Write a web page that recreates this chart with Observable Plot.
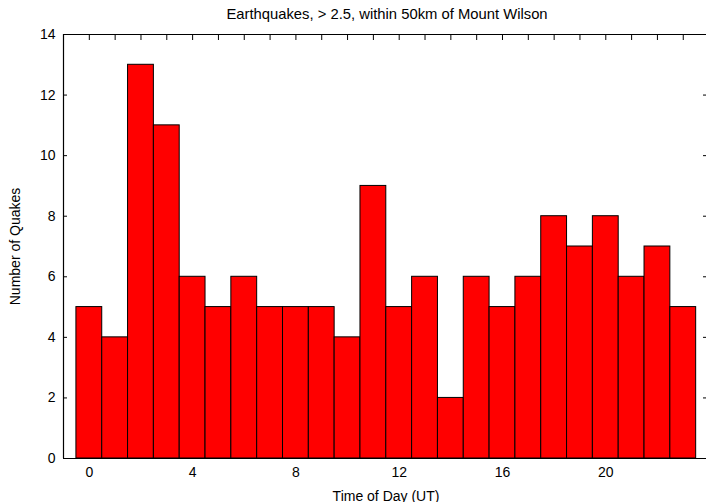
<!DOCTYPE html>
<html>
<head>
<meta charset="utf-8">
<script src="https://cdn.jsdelivr.net/npm/d3@7"></script>
<script src="https://cdn.jsdelivr.net/npm/@observablehq/plot@0.6"></script>
<style>
  html, body { margin: 0; padding: 0; background: #fff; }
  #chart svg { display: block; font-family: "Liberation Sans", Arial, Helvetica, sans-serif; }
</style>
</head>
<body>
<div id="chart"></div>
<script>
const hours = d3.range(0, 24);
const counts = [5, 4, 13, 11, 6, 5, 6, 5, 5, 5, 4, 9, 5, 6, 2, 6, 5, 6, 8, 7, 8, 6, 7, 5];
const xTickLabels = [0, 4, 8, 12, 16, 20];
const yTickLabels = [0, 2, 4, 6, 8, 10, 12, 14];
const yInnerTicks = [2, 4, 6, 8, 10, 12];
const title = "Earthquakes, > 2.5, within 50km of Mount Wilson";
const xLabel = "Time of Day (UT)";
const yLabel = "Number of Quakes";

const data = hours.map((h, i) => ({hour: h, count: counts[i]}));

const chart = Plot.plot({
  width: 706,
  height: 502,
  marginTop: 34,
  marginBottom: 44,
  marginLeft: 63,
  marginRight: 0,
  style: {fontSize: "14px", fontFamily: "Liberation Sans, Arial, Helvetica, sans-serif", color: "#000"},
  x: {domain: [-1, 23.9], label: null},
  y: {domain: [0, 14], label: null},
  marks: [
    Plot.rectY(data, {
      x1: d => d.hour - 0.5,
      x2: d => d.hour + 0.5,
      y: "count",
      fill: "#ff0000",
      stroke: "#000",
      strokeWidth: 1
    }),
    Plot.ruleY([0, 14], {stroke: "#000", strokeWidth: 1.2}),
    Plot.ruleX([-1], {stroke: "#000", strokeWidth: 1.2}),
    Plot.axisX({anchor: "bottom", ticks: xTickLabels, tickSize: 0, tickPadding: 9, fontSize: 14, label: null}),
    Plot.axisX({anchor: "top", ticks: hours, tickSize: -5, tickFormat: () => "", label: null}),
    Plot.axisY({anchor: "left", ticks: yTickLabels, tickSize: -4, tickPadding: 12, fontSize: 14, label: null}),
    Plot.axisY({anchor: "right", ticks: yInnerTicks, tickSize: -4, tickFormat: () => "", label: null}),
    Plot.text([title], {frameAnchor: "top", dx: 2, dy: -15.5, lineAnchor: "bottom", fontSize: 14.8}),
    Plot.text([xLabel], {frameAnchor: "bottom", dx: 1, dy: 42, lineAnchor: "bottom", fontSize: 14}),
    Plot.text([yLabel], {frameAnchor: "left", dx: -48, rotate: -90, textAnchor: "middle", fontSize: 14})
  ]
});
document.getElementById("chart").append(chart);
</script>
</body>
</html>
